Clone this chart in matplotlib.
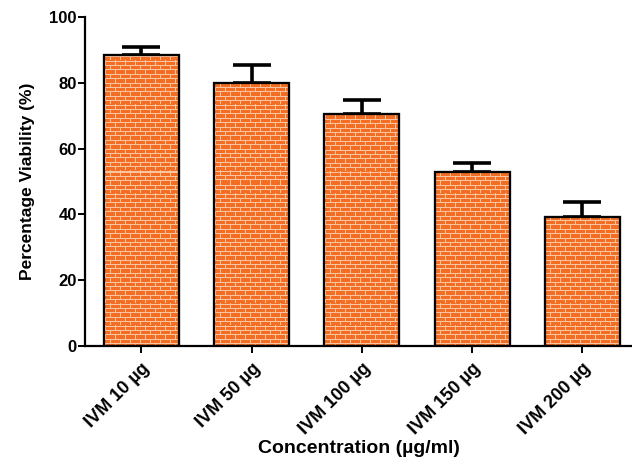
import numpy as np
import matplotlib.pyplot as plt

# data
labels = ["IVM 10 µg", "IVM 50 µg", "IVM 100 µg", "IVM 150 µg", "IVM 200 µg"]
viability = [88.5, 80.0, 70.5, 52.8, 39.2]
err = [2.5, 5.4, 4.4, 2.8, 4.6]

plt.rcParams['font.family'] = ['Liberation Sans', 'DejaVu Sans']
plt.rcParams['font.weight'] = 'bold'

fig = plt.figure(figsize=(6.32, 4.61), dpi=100)
ax = fig.add_axes([85 / 632, 1 - 346 / 461, 1 - 85 / 632, 329 / 461])

x = np.arange(len(labels))
bars = ax.bar(x, viability, width=0.68, color='#f26b21', edgecolor='black',
              linewidth=1.5, zorder=2)
ax.errorbar(x, viability, yerr=[np.zeros(len(err)), err], fmt='none',
            ecolor='black', elinewidth=2.6, capsize=14, capthick=2.6, zorder=1)

ax.set_xlim(-0.51, 4.45)
ax.set_ylim(0, 100)

# brick texture, one pixel per array cell, clipped to each bar
H, W = 329, 547
tex = np.empty((H, W, 3))
tex[:] = np.array([243, 110, 34]) / 255
mortar = np.array([250, 196, 160]) / 255
yy, xx = np.mgrid[0:H, 0:W]
row = np.floor(yy / 4.4).astype(int)
hline = (yy % 4.4) < 1
vline = ((xx + (row % 2) * 5) % 10) == 0
tex[hline | vline] = mortar
for b in bars:
    im = ax.imshow(tex, extent=(-0.51, 4.45, 0, 100), aspect='auto',
                   interpolation='nearest', origin='upper', zorder=2.1)
    im.set_clip_path(b)
    ax.bar(b.get_x() + b.get_width() / 2, b.get_height(), width=b.get_width(),
           fill=False, edgecolor='black', linewidth=1.6, zorder=2.2)

ax.set_xticks(x)
ax.set_xticklabels(labels, rotation=45, ha='right', rotation_mode='anchor',
                   fontsize=13, fontweight='bold')
ax.set_yticks([0, 20, 40, 60, 80, 100])
ax.tick_params(axis='y', labelsize=12, width=1.4, length=5, pad=1)
ax.tick_params(axis='x', width=1.4, length=5, pad=5)
for lab in ax.get_yticklabels():
    lab.set_fontweight('bold')

for s in ['top', 'right']:
    ax.spines[s].set_visible(False)
for s in ['left', 'bottom']:
    ax.spines[s].set_linewidth(1.6)

ax.set_ylabel('Percentage Viability (%)', fontsize=12.5, fontweight='bold', labelpad=10)
ax.set_xlabel('Concentration (µg/ml)', fontsize=14, fontweight='bold', labelpad=1)

fig.savefig('out.png', dpi=100)
